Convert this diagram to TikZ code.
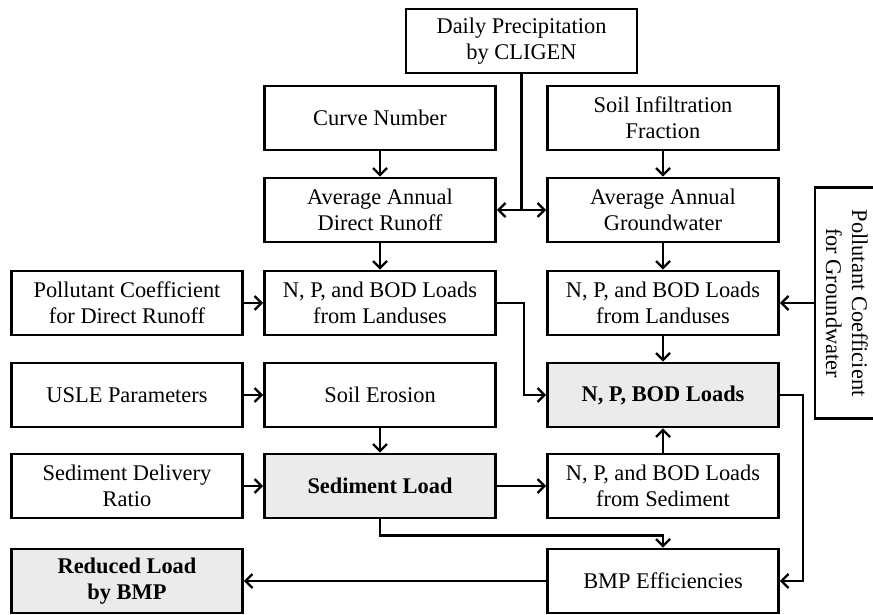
\documentclass[tikz,border=0pt]{standalone}
\usepackage{fontspec}
\setmainfont{Liberation Serif}
\usetikzlibrary{arrows.meta}
\tikzset{
    >={Straight Barb[length=3.5pt,width=7pt]},
    box/.style={draw, line width=1.3pt, minimum width=115.5pt, minimum height=32pt,
        align=center, inner sep=2pt, font=\fontsize{11.2}{13}\selectfont},
    result/.style={box, fill=gray!16, font=\fontsize{11.2}{13}\selectfont\bfseries},
    flow/.style={line width=1.2pt, ->},
}

\begin{document}
\begin{tikzpicture}[x=0.5pt, y=-0.5pt]
        \useasboundingbox (0,0) rectangle (873,615);
        % inputs
        \node[box] (daily) at (521.5,41) {Daily Precipitation\\by CLIGEN};
        \node[box] (curve) at (380,118) {Curve Number};
        \node[box] (infil) at (663,118) {Soil Infiltration\\Fraction};
        \node[box] (avgdr) at (380,210) {Average Annual\\Direct Runoff};
        \node[box] (avggw) at (663,210) {Average Annual\\Groundwater};
        \node[box] (pdr) at (127,303) {Pollutant Coefficient\\for Direct Runoff};
        \node[box] (npl) at (380,303) {N, P, and BOD Loads\\from Landuses};
        \node[box] (npr) at (663,303) {N, P, and BOD Loads\\from Landuses};
        \node[box, rotate=-90] (pgw) at (847,303) {Pollutant Coefficient\\for Groundwater};
        \node[box] (usle) at (127,395) {USLE Parameters};
        \node[box] (eros) at (380,395) {Soil Erosion};
        \node[result] (loads) at (663,395) {N, P, BOD Loads};
        \node[box] (sdr) at (127,486) {Sediment Delivery\\Ratio};
        \node[result] (sed) at (380,486) {Sediment Load};
        \node[box] (npsed) at (663,486) {N, P, and BOD Loads\\from Sediment};
        \node[result] (redu) at (127,581) {Reduced Load\\by BMP};
        \node[box] (bmp) at (663,581) {BMP Efficiencies};

        % connectors
        \draw[line width=1.2pt] (daily.south) -- (daily.south |- avgdr.east);
        \draw[flow, <->] (avgdr.east) -- (avggw.west);
        \draw[flow] (curve) -- (avgdr);
        \draw[flow] (infil) -- (avggw);
        \draw[flow] (avgdr) -- (npl);
        \draw[flow] (avggw) -- (npr);
        \draw[flow] (pdr) -- (npl);
        \draw[flow] (pgw.south) -- (npr.east);
        \draw[flow] (npl.east) -- ++(27,0) |- (loads.west);
        \draw[flow] (npr) -- (loads);
        \draw[flow] (usle) -- (eros);
        \draw[flow] (eros) -- (sed);
        \draw[flow] (sdr) -- (sed);
        \draw[flow] (sed) -- (npsed);
        \draw[flow] (npsed) -- (loads);
        \draw[flow] (sed.south) -- ++(0,16) -| (bmp.north);
        \draw[flow] (loads.east) -- ++(23,0) |- (bmp.east);
        \draw[flow] (bmp) -- (redu);
    \end{tikzpicture}
\end{document}
